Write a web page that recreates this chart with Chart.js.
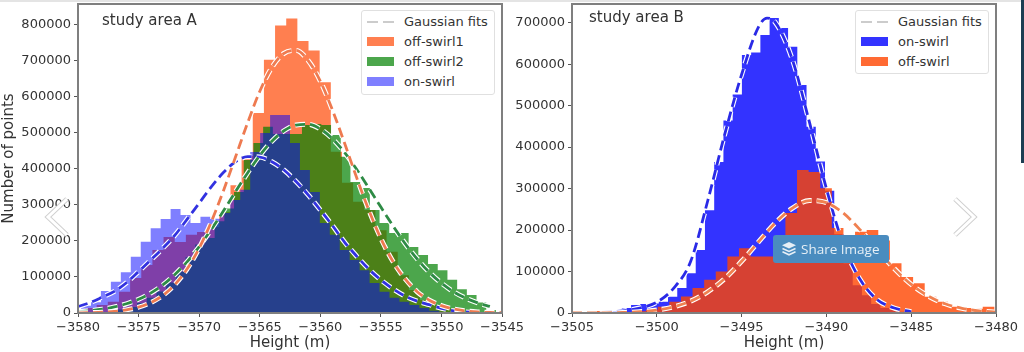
<!DOCTYPE html>
<html>
<head>
<meta charset="utf-8">
<script src="https://cdn.jsdelivr.net/npm/chart.js@4"></script>
<style>
  html, body { margin: 0; padding: 0; background: #fff; }
  #page { position: relative; width: 1024px; height: 352px; overflow: hidden; filter: blur(0.45px); font-family: "DejaVu Sans", sans-serif; color: #333; }
  canvas { position: absolute; top: 0; }
  #chartA { left: 0; }
  #chartB { left: 510px; }
  #topStrip { position: absolute; left: 0; top: 0; width: 1024px; height: 2px; background: #e4e4e4; }
  #sideStrip { position: absolute; left: 1021px; top: 0; width: 3px; height: 163px; background: #1c3d52; }
  .areaLabel { position: absolute; font-size: 15px; line-height: 16px; }
  .legendBox { position: absolute; background: #fff; border: 1px solid #e0e0e0; border-radius: 3px; box-sizing: border-box; }
  .legendRow { position: absolute; left: 0; height: 16px; line-height: 16px; font-size: 13px; white-space: nowrap; }
  .swatch { position: absolute; left: 5px; top: 3px; width: 27px; height: 9px; }
  .dash { position: absolute; left: 5px; top: 7px; width: 27px; height: 2px; background: repeating-linear-gradient(90deg, #ccc 0 11px, transparent 11px 16px); }
  .legendRow span { position: absolute; left: 42px; }
  .chevron { position: absolute; top: 196px; }
  #shareBtn { position: absolute; left: 773px; top: 235px; width: 116px; height: 28px; background: #4a8cbf; border-radius: 3px; color: #e6eff6; font: 13.5px/28px "Open Sans", sans-serif; }
  #shareBtn span { position: absolute; left: 28px; }
  #shareBtn svg { position: absolute; left: 9px; top: 7px; }
</style>
</head>
<body>
<div id="page">
  <canvas id="chartA" width="530" height="352"></canvas>
  <canvas id="chartB" width="514" height="352"></canvas>
  <div id="topStrip"></div>
  <div id="sideStrip"></div>

  <div class="areaLabel" style="left:102px;top:12px">study area A</div>
  <div class="areaLabel" style="left:589px;top:9px">study area B</div>

  <div class="legendBox" style="left:361px;top:10px;width:134px;height:85px">
    <div class="legendRow" style="top:3px"><div class="dash"></div><span>Gaussian fits</span></div>
    <div class="legendRow" style="top:23px"><div class="swatch" style="background:#ff7f50"></div><span>off-swirl1</span></div>
    <div class="legendRow" style="top:43px"><div class="swatch" style="background:#4ca64c"></div><span>off-swirl2</span></div>
    <div class="legendRow" style="top:63px"><div class="swatch" style="background:#7f7fff"></div><span>on-swirl</span></div>
  </div>
  <div class="legendBox" style="left:855px;top:10px;width:134px;height:64px">
    <div class="legendRow" style="top:3px"><div class="dash"></div><span>Gaussian fits</span></div>
    <div class="legendRow" style="top:23px"><div class="swatch" style="background:#3333ff"></div><span>on-swirl</span></div>
    <div class="legendRow" style="top:43px"><div class="swatch" style="background:#ff6a33"></div><span>off-swirl</span></div>
  </div>

  <svg class="chevron" style="left:43px" width="28" height="42" viewBox="0 0 28 42">
    <polyline points="24,3 5,21 24,39" fill="none" stroke="#d0d0d0" stroke-width="5"/>
    <polyline points="24,3 5,21 24,39" fill="none" stroke="#fff" stroke-width="3"/>
  </svg>
  <svg class="chevron" style="left:951px" width="28" height="42" viewBox="0 0 28 42">
    <polyline points="4,3 23,21 4,39" fill="none" stroke="#d0d0d0" stroke-width="5"/>
    <polyline points="4,3 23,21 4,39" fill="none" stroke="#fff" stroke-width="3"/>
  </svg>

  <div id="shareBtn">
    <svg width="14" height="14" viewBox="0 0 14 14" fill="#e6eff6">
      <polygon points="7,0 14,3.2 7,6.4 0,3.2"/>
      <polyline points="0.5,6.5 7,9.5 13.5,6.5" fill="none" stroke="#e6eff6" stroke-width="1.5"/>
      <polyline points="0.5,9.8 7,12.8 13.5,9.8" fill="none" stroke="#e6eff6" stroke-width="1.5"/>
    </svg>
    <span>Share Image</span>
  </div>
</div>

<script>
// tick values
const yTicksA = [0, 100000, 200000, 300000, 400000, 500000, 600000, 700000, 800000];
const yTicksB = [0, 100000, 200000, 300000, 400000, 500000, 600000, 700000];
const xTicksA = [-3580, -3575, -3570, -3565, -3560, -3555, -3550, -3545];
const xTicksB = [-3505, -3500, -3495, -3490, -3485, -3480];

// study area A - histogram bins, counts per bin
const offSwirl1StartA = -3580.3;
const offSwirl1BinA = 0.9204;
const offSwirl1A = [6000, 14000, 22000, 31000, 59000, 97000, 133000, 175000, 211000, 197000, 217000, 225000, 239000, 280000, 355000, 436000, 555000, 703000, 798000, 818000, 755000, 729000, 641000, 448000, 362000, 309000, 286000, 230000, 170000, 105000, 64000, 36000, 22000, 13000, 6000, 3000, 1500, 800];

const offSwirl2StartA = -3579.93;
const offSwirl2BinA = 0.8007;
const offSwirl2A = [500, 1500, 3000, 6000, 10000, 17000, 28000, 42000, 60000, 85000, 115000, 155000, 190000, 208000, 255000, 290000, 336000, 425000, 472000, 517000, 497000, 497000, 497000, 522000, 525000, 522000, 494000, 434000, 364000, 347000, 286000, 250000, 222000, 222000, 183000, 161000, 136000, 119000, 92000, 66000, 50000, 29000, 8000, 3000];

const onSwirlStartA = -3579.75;
const onSwirlBinA = 0.8214;
const onSwirlA = [20000, 30000, 61000, 87000, 113000, 156000, 198000, 235000, 261000, 289000, 272000, 250000, 267000, 262000, 278000, 314000, 342000, 447000, 500000, 550000, 550000, 472000, 397000, 336000, 250000, 217000, 175000, 147000, 119000, 83000, 59000, 42000, 31000, 22000, 14000, 6000, 2500, 1000];

// study area A - gaussian fit curves
const fitHeightsA = [-3580, -3579, -3578, -3577, -3576, -3575, -3574, -3573, -3572, -3571, -3570, -3569, -3568, -3567, -3566, -3565, -3564, -3563, -3562, -3561, -3560, -3559, -3558, -3557, -3556, -3555, -3554, -3553, -3552, -3551, -3550, -3549, -3548, -3547, -3546, -3545];
const fitOffSwirl1A = [450, 1000, 2100, 4400, 8600, 16100, 28700, 48600, 79000, 122000, 180000, 253000, 339000, 433000, 528000, 615000, 682000, 721000, 729000, 701000, 644000, 564000, 472000, 376000, 286000, 207000, 143000, 95000, 59000, 35600, 20400, 11200, 5800, 2900, 1400, 700];
const fitOffSwirl2A = [3900, 6500, 10600, 16700, 25600, 38200, 55300, 77800, 107000, 142000, 184000, 232000, 283000, 337000, 389000, 437000, 477000, 506000, 522000, 524000, 511000, 484000, 446000, 399000, 347000, 294000, 242000, 193000, 150000, 113000, 83000, 59000, 41400, 28000, 18200];
const fitOnSwirlA = [18000, 29000, 44000, 60000, 84000, 115000, 147000, 180000, 216000, 260000, 305000, 350000, 390000, 420000, 434000, 433000, 420000, 397000, 365000, 328000, 286000, 243000, 197000, 158000, 122000, 92000, 67000, 47000, 33000, 23000, 13000, 6000, 3000, 1000];

// study area B - histogram bins
const onSwirlStartB = -3505.33;
const onSwirlBinB = 0.5446;
const onSwirlB = [1000, 1000, 1500, 1500, 2000, 3000, 12000, 19000, 22000, 23000, 27000, 39000, 60000, 96000, 152000, 248000, 364000, 464000, 527000, 622000, 628000, 670000, 711000, 687000, 642000, 550000, 449000, 365000, 295000, 190000, 120000, 67000, 43000, 22000, 12000, 7000, 3000];

const offSwirlStartB = -3505.42;
const offSwirlBinB = 0.6844;
const offSwirlB = [1000, 2000, 5000, 3000, 2000, 2000, 4000, 8000, 15000, 27000, 40000, 60000, 80000, 100000, 136000, 156000, 136000, 136000, 136000, 241000, 345000, 340000, 301000, 205000, 170000, 196000, 200000, 175000, 120000, 87000, 72000, 39000, 27000, 15000, 12000, 10000, 15000, 8000];

// study area B - gaussian fit curves
const fitOnHeightsB = [-3505, -3504, -3503, -3502, -3501, -3500, -3499, -3498, -3497, -3496, -3495, -3494, -3493.5, -3493, -3492, -3491, -3490, -3489, -3488, -3487, -3486, -3485];
const fitOnSwirlB = [500, 1000, 2000, 5000, 12000, 26000, 60000, 125000, 270000, 430000, 575000, 690000, 711000, 700000, 610000, 460000, 300000, 165000, 80000, 32000, 12000, 3000];
const fitOffHeightsB = [-3505, -3504, -3503, -3502, -3501, -3500, -3499, -3498, -3497, -3496, -3495, -3494, -3493, -3492, -3491, -3490, -3489, -3488, -3487, -3486, -3485, -3484, -3483, -3482, -3481, -3480];
const fitOffSwirlB = [50, 160, 460, 1250, 3100, 7100, 14800, 28700, 51000, 82800, 124600, 171700, 217600, 253000, 271000, 266000, 240800, 200000, 152600, 107000, 69000, 41000, 22300, 11200, 5100, 2200];

// bin counts -> step outline, each count holds until the next bin edge
function histPoints(start, width, values) {
    let points = values.map(function(v, i) {
        return { x: start + i * width, y: v };
    });
    points.push({ x: start + values.length * width, y: 0 });
    return points;
}

function histDataset(label, points, color) {
    return {
        label: label,
        data: points,
        stepped: 'before',
        fill: 'origin',
        backgroundColor: color,
        borderWidth: 0,
        pointRadius: 0
    };
}

function fitPoints(heights, values) {
    return values.map(function(v, i) {
        return { x: heights[i], y: v };
    });
}

// a fit is a coloured dash on a wider white dash
function fitDatasets(label, points, color) {
    let base = {
        data: points,
        fill: false,
        pointRadius: 0,
        cubicInterpolationMode: 'monotone',
        borderDash: [10, 5]
    };
    return [
        Object.assign({}, base, { label: label + ' halo', borderColor: '#ffffff', borderWidth: 5 }),
        Object.assign({}, base, { label: label, borderColor: color, borderWidth: 2.8 })
    ];
}

// frame around the plot area
const framePlugin = {
    id: 'frame',
    afterDatasetsDraw: function(chart) {
        let a = chart.chartArea;
        let ctx = chart.ctx;
        ctx.save();
        ctx.strokeStyle = '#7f7f7f';
        ctx.lineWidth = 2;
        ctx.strokeRect(a.left, a.top, a.right - a.left, a.bottom - a.top);
        ctx.restore();
    }
};

function tickObjects(values) {
    return values.map(function(v) {
        return { value: v };
    });
}

function makeChart(canvasId, datasets, xTicks, yTicks, yMax, yAxisWidth, yTitle) {
    // first dataset has to be painted first
    datasets.forEach(function(d, i) {
        d.order = datasets.length - i;
    });

    return new Chart(document.getElementById(canvasId).getContext('2d'), {
        type: 'line',
        data: { datasets: datasets },
        plugins: [framePlugin],
        options: {
            responsive: false,
            animation: false,
            layout: { padding: { top: 4, right: 28, left: 0, bottom: 0 } },
            plugins: { legend: { display: false }, tooltip: { enabled: false } },
            scales: {
                x: {
                    type: 'linear',
                    min: xTicks[0],
                    max: xTicks[xTicks.length - 1],
                    afterBuildTicks: function(scale) { scale.ticks = tickObjects(xTicks); },
                    afterFit: function(scale) {
                        scale.height = 39;
                        scale.paddingLeft = 0;
                        scale.paddingRight = 0;
                    },
                    grid: { drawOnChartArea: false, tickLength: 4, color: '#555' },
                    border: { display: false },
                    ticks: {
                        autoSkip: false,
                        maxRotation: 0,
                        padding: 3,
                        color: '#333',
                        font: { family: 'DejaVu Sans', size: 13 },
                        callback: function(value) { return '\u2212' + Math.abs(value); }
                    },
                    title: {
                        display: true,
                        text: 'Height (m)',
                        color: '#333',
                        padding: { top: 0, bottom: 0 },
                        font: { family: 'DejaVu Sans', size: 15 }
                    }
                },
                y: {
                    min: 0,
                    max: yMax,
                    afterBuildTicks: function(scale) { scale.ticks = tickObjects(yTicks); },
                    afterFit: function(scale) {
                        scale.width = yAxisWidth;
                        scale.paddingTop = 0;
                        scale.paddingBottom = 0;
                    },
                    grid: { drawOnChartArea: false, tickLength: 4, color: '#555' },
                    border: { display: false },
                    ticks: {
                        autoSkip: false,
                        padding: 3,
                        color: '#333',
                        font: { family: 'DejaVu Sans', size: 13 },
                        callback: function(value) { return String(value); }
                    },
                    title: {
                        display: yTitle !== '',
                        text: yTitle,
                        color: '#333',
                        padding: 0,
                        font: { family: 'DejaVu Sans', size: 15 }
                    }
                }
            }
        }
    });
}

makeChart('chartA', [
    histDataset('off-swirl1', histPoints(offSwirl1StartA, offSwirl1BinA, offSwirl1A), 'rgb(255,127,80)'),
    histDataset('off-swirl2', histPoints(offSwirl2StartA, offSwirl2BinA, offSwirl2A), 'rgba(0,128,0,0.7)'),
    histDataset('on-swirl', histPoints(onSwirlStartA, onSwirlBinA, onSwirlA), 'rgba(0,0,255,0.5)')
].concat(
    fitDatasets('fit on-swirl', fitPoints(fitHeightsA, fitOnSwirlA), '#3232e0'),
    fitDatasets('fit off-swirl2', fitPoints(fitHeightsA, fitOffSwirl2A), '#2e8b45'),
    fitDatasets('fit off-swirl1', fitPoints(fitHeightsA, fitOffSwirl1A), '#ee7a50')
), xTicksA, yTicksA, 858000, 78, 'Number of points');

makeChart('chartB', [
    histDataset('on-swirl', histPoints(onSwirlStartB, onSwirlBinB, onSwirlB), 'rgba(0,0,255,0.8)'),
    histDataset('off-swirl', histPoints(offSwirlStartB, offSwirlBinB, offSwirlB), 'rgba(255,69,0,0.8)')
].concat(
    fitDatasets('fit on-swirl', fitPoints(fitOnHeightsB, fitOnSwirlB), '#2a2ae6'),
    fitDatasets('fit off-swirl', fitPoints(fitOffHeightsB, fitOffSwirlB), '#f08050')
), xTicksB, yTicksB, 745000, 62, '');
</script>
</body>
</html>
